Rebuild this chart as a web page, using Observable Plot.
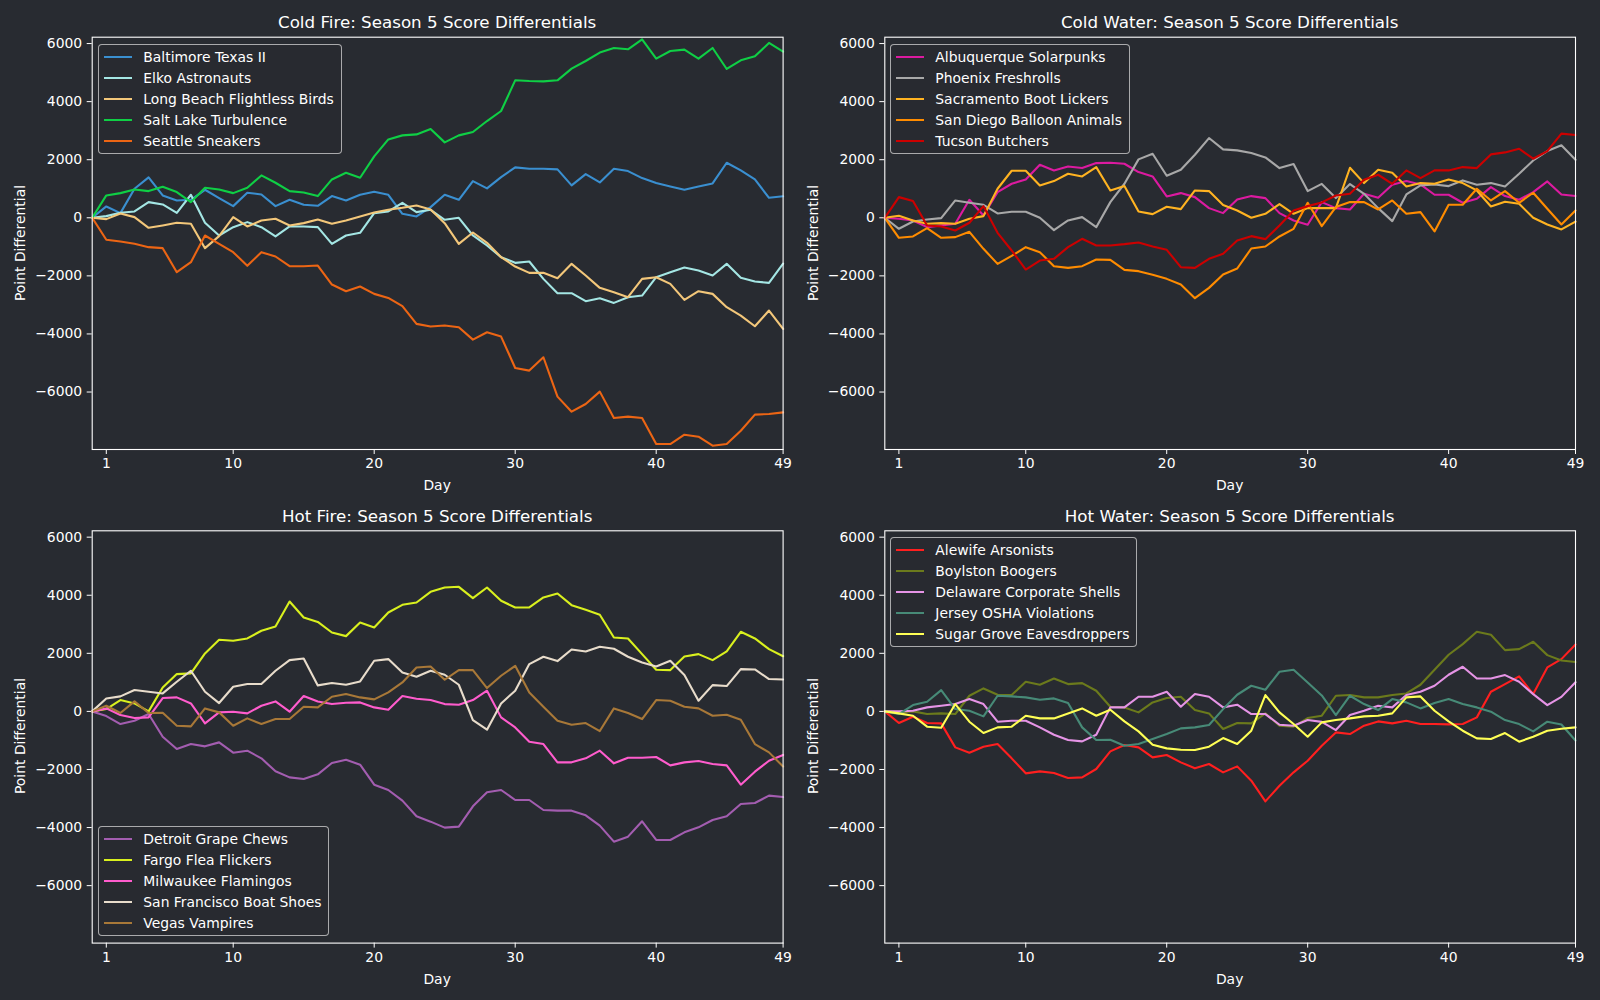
<!DOCTYPE html>
<html>
<head>
<meta charset="utf-8">
<script src="https://cdn.jsdelivr.net/npm/d3@7"></script>
<script src="https://cdn.jsdelivr.net/npm/@observablehq/plot@0.6"></script>
<style>
  html, body { margin: 0; padding: 0; background: #282b31; }
  #fig { position: relative; width: 1600px; height: 1000px; background: #282b31; overflow: hidden; font-family: "DejaVu Sans", sans-serif; color: #ffffff; }
  .panel { position: absolute; width: 800px; height: 500px; }
  .title { position: absolute; font-size: 16.7px; white-space: nowrap; transform: translate(-50%, -50%); }
  .xlabel { position: absolute; font-size: 13.9px; white-space: nowrap; transform: translate(-50%, -50%); }
  .ylabel { position: absolute; font-size: 13.9px; white-space: nowrap; transform: translate(-50%, -50%) rotate(-90deg); }
  .legend { position: absolute; border: 1px solid rgba(204,204,204,0.8); border-radius: 4px; background: rgba(40,43,49,0.8); padding: 1px 7px 2px 5px; font-size: 13.9px; }
  .legend .row { height: 21px; display: flex; align-items: center; white-space: nowrap; }
  .legend .sw { display: inline-block; width: 28px; height: 2px; margin-right: 11px; }
</style>
</head>
<body>
<div id="fig"></div>
<script>
// ---------- data ----------
const days = [0,1,2,3,4,5,6,7,8,9,10,11,12,13,14,15,16,17,18,19,20,21,22,23,24,25,26,27,28,29,30,31,32,33,34,35,36,37,38,39,40,41,42,43,44,45,46,47,48,49];
const xTicks = [1, 10, 20, 30, 40, 49];
const yTicks = [-6000, -4000, -2000, 0, 2000, 4000, 6000];

// Cold Fire
const coldFireTeams = ["Baltimore Texas II", "Elko Astronauts", "Long Beach Flightless Birds", "Salt Lake Turbulence", "Seattle Sneakers"];
const coldFireColors = ["#3a8fd0", "#a4e6e4", "#f3c77a", "#0fcf45", "#ec6514"];
const baltimore = [0,391,161,1000,1390,770,597,620,965,678,402,862,804,402,620,448,414,747,597,793,896,793,138,46,368,793,620,1264,1011,1402,1735,1689,1689,1666,1115,1505,1218,1689,1609,1367,1195,1080,965,1080,1183,1896,1632,1321,689,740];
const elko = [0,57,172,218,540,460,172,793,-172,-609,-322,-149,-322,-643,-299,-299,-322,-896,-609,-517,161,218,517,195,276,-69,0,-609,-954,-1356,-1551,-1505,-2103,-2597,-2597,-2872,-2769,-2930,-2735,-2677,-2045,-1873,-1712,-1815,-1988,-1586,-2068,-2195,-2240,-1580];
const longBeach = [0,-46,149,23,-345,-264,-172,-207,-1046,-632,23,-299,-92,-34,-264,-184,-57,-207,-92,46,184,276,345,425,287,-184,-896,-506,-862,-1356,-1678,-1896,-1896,-2080,-1586,-1988,-2413,-2562,-2735,-2103,-2045,-2275,-2827,-2528,-2620,-3079,-3367,-3734,-3194,-3825];
const saltLake = [0,770,850,977,919,1069,885,540,1034,977,850,1034,1459,1206,919,873,747,1321,1551,1379,2114,2700,2838,2872,3056,2597,2838,2953,3332,3677,4734,4711,4699,4734,5136,5400,5688,5848,5802,6147,5481,5745,5791,5481,5848,5125,5423,5561,6021,5720];
const seattle = [0,-758,-816,-896,-1011,-1046,-1873,-1528,-609,-896,-1183,-1655,-1183,-1333,-1666,-1666,-1643,-2298,-2528,-2367,-2620,-2758,-3045,-3654,-3746,-3711,-3769,-4194,-3941,-4090,-5171,-5262,-4803,-6159,-6676,-6411,-5986,-6894,-6848,-6894,-7790,-7790,-7469,-7537,-7848,-7790,-7331,-6779,-6756,-6700];

// Cold Water
const coldWaterTeams = ["Albuquerque Solarpunks", "Phoenix Freshrolls", "Sacramento Boot Lickers", "San Diego Balloon Animals", "Tucson Butchers"];
const coldWaterColors = ["#dc1aa0", "#a8a8a8", "#ffb321", "#ff8c00", "#cc0000"];
const albuquerque = [0,-34,-92,-322,-264,-207,620,80,885,1172,1321,1827,1632,1769,1712,1884,1896,1861,1574,1425,735,850,712,333,161,632,747,678,161,-92,-241,540,333,287,827,689,1137,1264,1149,793,793,517,655,1057,747,620,885,1252,800,750];
const phoenix = [0,-379,-126,-57,-11,597,517,448,149,207,207,0,-425,-92,23,-322,540,1172,2011,2206,1448,1655,2172,2746,2355,2321,2229,2080,1712,1850,919,1166,678,1160,827,333,-115,804,1115,1149,1092,1287,1137,1195,1080,1517,1976,2298,2500,2000];
const sacramento = [0,69,-92,-207,-184,-207,-34,57,1000,1620,1620,1115,1264,1517,1425,1746,942,1092,218,126,379,299,942,919,437,253,0,138,471,138,333,333,333,1723,1195,1655,1551,1080,1195,1172,1321,1195,942,391,552,483,0,-230,-400,-130];
const sanDiego = [0,-689,-643,-356,-689,-666,-483,-1069,-1586,-1310,-1011,-1183,-1666,-1724,-1666,-1436,-1448,-1792,-1838,-1965,-2103,-2298,-2769,-2413,-1953,-1746,-1057,-988,-643,-379,517,-287,368,540,540,287,597,138,195,-471,448,448,1000,597,919,517,862,310,-230,250];
const tucson = [0,712,575,-264,-299,-437,-172,402,-517,-1126,-1781,-1471,-1413,-1011,-724,-954,-954,-908,-850,-988,-1103,-1701,-1724,-1413,-1241,-781,-632,-735,-264,253,402,530,770,827,1310,1482,1172,1632,1367,1632,1632,1746,1712,2183,2252,2378,2034,2298,2900,2850];

// Hot Fire
const hotFireTeams = ["Detroit Grape Chews", "Fargo Flea Flickers", "Milwaukee Flamingos", "San Francisco Boat Shoes", "Vegas Vampires"];
const hotFireColors = ["#a35db0", "#d9f01e", "#ff5ccd", "#e8dccb", "#a87838"];
const detroit = [0,-161,-436,-321,-92,-872,-1296,-1124,-1204,-1067,-1422,-1353,-1617,-2064,-2271,-2328,-2167,-1778,-1663,-1835,-2523,-2707,-3074,-3613,-3797,-4003,-3969,-3269,-2787,-2707,-3051,-3051,-3395,-3418,-3418,-3579,-3934,-4485,-4313,-3785,-4427,-4427,-4164,-3992,-3739,-3613,-3189,-3154,-2902,-2950];
const fargo = [0,80,390,275,0,826,1285,1308,1996,2466,2432,2512,2776,2925,3785,3235,3080,2718,2592,3062,2890,3407,3670,3751,4118,4267,4290,3900,4267,3808,3579,3579,3923,4060,3659,3498,3326,2546,2512,1973,1434,1422,1893,1973,1766,2065,2741,2512,2145,1900];
const milwaukee = [0,103,-126,-229,-206,459,482,275,-413,-34,-11,-69,195,344,-11,528,338,252,298,310,138,57,528,436,390,252,229,390,711,-206,-551,-1044,-1124,-1755,-1755,-1617,-1353,-1789,-1594,-1594,-1571,-1858,-1755,-1709,-1812,-1858,-2523,-2076,-1698,-1500];
const sanFrancisco = [0,447,516,734,677,619,1021,1399,677,287,849,941,941,1399,1766,1824,895,975,917,1032,1743,1801,1342,1193,1399,1262,918,-298,-631,275,711,1629,1881,1732,2133,2065,2225,2156,1881,1686,1548,1743,1250,367,906,872,1457,1445,1113,1100];
const vegas = [0,195,-57,344,-57,-46,-493,-516,103,-34,-493,-241,-436,-264,-264,161,138,505,596,482,413,654,998,1514,1548,1090,1422,1422,803,1227,1571,654,161,-321,-459,-401,-677,103,-57,-264,390,367,161,103,-149,-115,-287,-1124,-1411,-1900];

// Hot Water
const hotWaterTeams = ["Alewife Arsonists", "Boylston Boogers", "Delaware Corporate Shells", "Jersey OSHA Violations", "Sugar Grove Eavesdroppers"];
const hotWaterColors = ["#ff1f1f", "#6b7a1c", "#e694e6", "#478a77", "#ffff55"];
const alewife = [0,-401,-183,-401,-413,-1239,-1422,-1216,-1124,-1617,-2133,-2065,-2122,-2294,-2271,-1984,-1376,-1158,-1239,-1583,-1503,-1755,-1961,-1812,-2099,-1893,-2386,-3097,-2558,-2099,-1698,-1180,-723,-780,-493,-344,-413,-321,-436,-436,-447,-436,-206,677,941,1204,596,1514,1800,2300];
const boylston = [0,-34,0,-92,-69,-92,539,791,573,562,1021,917,1135,940,975,711,160,138,-34,310,459,505,46,-69,-608,-401,-413,-69,-493,-528,-229,-149,539,562,482,482,562,619,917,1434,1950,2317,2741,2638,2110,2145,2397,1938,1750,1700];
const delaware = [0,0,23,138,195,252,424,252,-355,-321,-321,-550,-803,-986,-1032,-803,138,138,505,505,677,160,596,505,138,229,-92,-92,-459,-493,-298,-360,-642,-126,23,195,138,562,677,883,1262,1537,1135,1135,1250,1021,596,218,500,1000];
const jersey = [0,-92,218,333,734,80,23,-172,539,516,482,401,447,287,-550,-986,-975,-1181,-1124,-952,-780,-585,-550,-470,80,573,883,745,1365,1434,998,550,-126,539,252,46,424,310,103,287,424,252,138,-11,-298,-436,-688,-355,-450,-1000];
const sugarGrove = [0,-69,-149,-527,-562,252,-355,-745,-550,-527,-149,-241,-241,-69,103,-149,57,-344,-688,-1147,-1273,-1319,-1330,-1216,-918,-1124,-665,562,-34,-436,-872,-378,-298,-241,-172,-149,-69,482,516,23,-344,-665,-929,-952,-745,-1044,-872,-665,-600,-550];

// ---------- drawing ----------
const fig = document.getElementById("fig");
const yDomain = [-7979, 6219];
const fmt = d => d < 0 ? "\u2212" + Math.abs(d) : String(d);

function addDiv(cls, text, x, y) {
  const d = document.createElement("div");
  d.className = cls; d.textContent = text;
  d.style.left = x + "px"; d.style.top = y + "px";
  fig.appendChild(d);
  return d;
}

function panel(cfg) {
  const data = [];
  cfg.teams.forEach((t, i) => cfg.series[i].forEach((v, j) => data.push({day: days[j], value: v, team: t})));
  const svg = Plot.plot({
    width: 800, height: 500,
    marginLeft: cfg.mL, marginRight: cfg.mR, marginTop: cfg.mT, marginBottom: cfg.mB,
    x: {domain: [0, 49], ticks: xTicks, tickSize: 5, tickPadding: 4, label: null},
    y: {domain: yDomain, ticks: yTicks, tickSize: 5, tickPadding: 5, label: null, tickFormat: fmt},
    color: {domain: cfg.teams, range: cfg.colors},
    style: {background: "transparent", color: "#ffffff", fontFamily: "DejaVu Sans", fontSize: "13.9px", overflow: "visible"},
    marks: [
      Plot.line(data, {x: "day", y: "value", z: "team", stroke: "team", strokeWidth: 2.1}),
      Plot.frame({stroke: "#ffffff", strokeWidth: 1.1})
    ]
  });
  const wrap = document.createElement("div");
  wrap.className = "panel";
  wrap.style.left = cfg.left + "px"; wrap.style.top = cfg.top + "px";
  wrap.appendChild(svg);
  fig.appendChild(wrap);

  const x0 = cfg.left + cfg.mL, x1 = cfg.left + 800 - cfg.mR;
  const y0 = cfg.top + cfg.mT, y1 = cfg.top + 500 - cfg.mB;
  const cx = (x0 + x1) / 2;
  addDiv("title", cfg.title, cx, y0 - 14.5);
  addDiv("xlabel", "Day", cx, y1 + 36);
  addDiv("ylabel", "Point Differential", x0 - 71.5, (y0 + y1) / 2);

  const lg = document.createElement("div");
  lg.className = "legend";
  lg.style.left = cfg.lx + "px"; lg.style.top = cfg.ly + "px";
  cfg.teams.forEach((t, i) => {
    const r = document.createElement("div"); r.className = "row";
    const s = document.createElement("span"); s.className = "sw"; s.style.background = cfg.colors[i];
    const tx = document.createElement("span"); tx.textContent = t;
    r.appendChild(s); r.appendChild(tx); lg.appendChild(r);
  });
  fig.appendChild(lg);
}

panel({title: "Cold Fire: Season 5 Score Differentials", teams: coldFireTeams, colors: coldFireColors,
  series: [baltimore, elko, longBeach, saltLake, seattle],
  left: 0, top: 0, mL: 91.7, mR: 17.4, mT: 36.7, mB: 51, lx: 98.3, ly: 44.3});
panel({title: "Cold Water: Season 5 Score Differentials", teams: coldWaterTeams, colors: coldWaterColors,
  series: [albuquerque, phoenix, sacramento, sanDiego, tucson],
  left: 800, top: 0, mL: 84.3, mR: 25, mT: 36.7, mB: 51, lx: 890.3, ly: 44.3});
panel({title: "Hot Fire: Season 5 Score Differentials", teams: hotFireTeams, colors: hotFireColors,
  series: [detroit, fargo, milwaukee, sanFrancisco, vegas],
  left: 0, top: 500, mL: 91.7, mR: 17.4, mT: 30.3, mB: 57.4, lx: 98.3, ly: 826.3});
panel({title: "Hot Water: Season 5 Score Differentials", teams: hotWaterTeams, colors: hotWaterColors,
  series: [alewife, boylston, delaware, jersey, sugarGrove],
  left: 800, top: 500, mL: 84.3, mR: 25, mT: 30.3, mB: 57.4, lx: 890.3, ly: 537.3});
</script>
</body>
</html>
